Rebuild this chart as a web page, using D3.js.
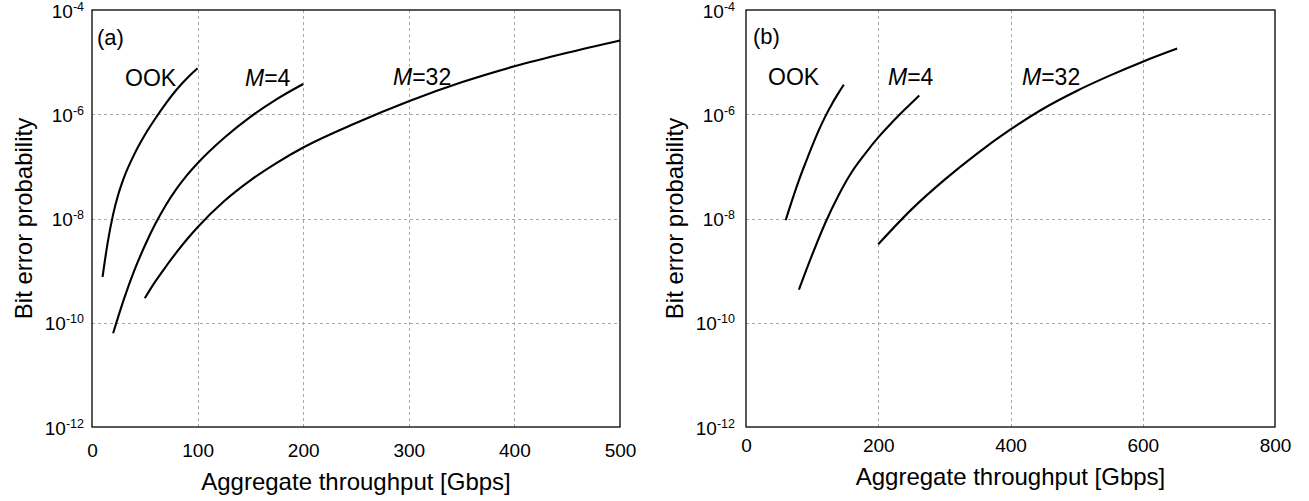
<!DOCTYPE html>
<meta charset="utf-8">
<style>
  body { margin: 0; background: #fff; }
  svg text { font-family: "Liberation Sans", Arial, sans-serif; fill: #000; }
  .grid line { stroke: #a8a8a8; stroke-dasharray: 3,3; shape-rendering: crispEdges; }
  .grid path, .axis path, .axis line { display: none; }
  .frame { fill: none; stroke: #000; stroke-width: 1.3; }
  .curve { fill: none; stroke: #000; stroke-width: 2.1; }
</style>
<body>
<script src="https://cdn.jsdelivr.net/npm/d3@7"></script>
<script>

  // ---- data ----
  var yTickExps = [-4, -6, -8, -10, -12];
  var xTicksA = [0, 100, 200, 300, 400, 500];
  var xTicksB = [0, 200, 400, 600, 800];

  // panel (a)
  var ookA_x   = [10, 15, 20, 25, 30, 40, 50, 60, 70, 80, 90, 100];
  var ookA_ber = [7.6e-10, 3.6e-9, 1.2e-8, 2.95e-8, 5.9e-8, 1.7e-7, 4.0e-7, 8.3e-7, 1.62e-6, 2.95e-6, 4.9e-6, 7.6e-6];
  var m4A_x    = [20, 30, 40, 50, 60, 70, 80, 90, 100, 125, 150, 175, 200];
  var m4A_ber  = [6.3e-11, 2.75e-10, 1.0e-9, 3.0e-9, 7.9e-9, 1.82e-8, 3.7e-8, 6.8e-8, 1.15e-7, 3.5e-7, 8.9e-7, 1.95e-6, 3.8e-6];
  var m32A_x   = [50, 60, 70, 80, 90, 100, 125, 150, 175, 200, 250, 300, 350, 400, 450, 500];
  var m32A_ber = [2.95e-10, 6.2e-10, 1.2e-9, 2.24e-9, 4.0e-9, 6.8e-9, 2.14e-8, 5.4e-8, 1.17e-7, 2.3e-7, 6.8e-7, 1.78e-6, 4.1e-6, 8.3e-6, 1.51e-5, 2.6e-5];

  // panel (b)
  var ookB_x   = [60, 70, 80, 90, 100, 110, 120, 130, 140, 148];
  var ookB_ber = [9.3e-9, 2.3e-8, 5.4e-8, 1.17e-7, 2.45e-7, 4.9e-7, 9.1e-7, 1.58e-6, 2.57e-6, 3.7e-6];
  var m4B_x    = [80, 100, 120, 140, 160, 180, 200, 220, 240, 262];
  var m4B_ber  = [4.3e-10, 2.0e-9, 8.3e-9, 2.8e-8, 7.8e-8, 1.74e-7, 3.6e-7, 6.8e-7, 1.23e-6, 2.3e-6];
  var m32B_x   = [200, 250, 300, 350, 400, 450, 500, 550, 600, 652];
  var m32B_ber = [3.2e-9, 1.48e-8, 5.5e-8, 1.78e-7, 5.1e-7, 1.29e-6, 2.8e-6, 5.5e-6, 1.02e-5, 1.82e-5];

  var xTitle = "Aggregate throughput [Gbps]";
  var yTitle = "Bit error probability";

  var zip = function(xs, ys) { return xs.map(function(v, i) { return [v, ys[i]]; }); };

  var panels = [
    { tag: "(a)", left: 92, right: 620, xMax: 500, xTicks: xTicksA,
      yPad: 8, xTickY: 30, xTitleY: 63, yTitleX: 60,
      tagPos: [5, 35],
      series: [zip(ookA_x, ookA_ber), zip(m4A_x, m4A_ber), zip(m32A_x, m32A_ber)],
      labels: [{ t: "OOK", x: 33, y: 76 }, { m: "4", x: 153, y: 76 }, { m: "32", x: 301, y: 75 }] },
    { tag: "(b)", left: 746, right: 1275, xMax: 800, xTicks: xTicksB,
      yPad: 11, xTickY: 25, xTitleY: 58, yTitleX: 63,
      tagPos: [7, 34],
      series: [zip(ookB_x, ookB_ber), zip(m4B_x, m4B_ber), zip(m32B_x, m32B_ber)],
      labels: [{ t: "OOK", x: 22, y: 75 }, { m: "4", x: 142, y: 75 }, { m: "32", x: 276, y: 75 }] }
  ];

  var plotTop = 10, plotBottom = 427, plotH = plotBottom - plotTop;

  var svg = d3.select("body").append("svg")
      .attr("width", 1309)
      .attr("height", 501);

  panels.forEach(function(p) {
    var width = p.right - p.left;

    var x = d3.scaleLinear().domain([0, p.xMax]).range([0, width]);
    var y = d3.scaleLog().domain([1e-12, 1e-4]).range([plotH, 0]);

    var g = svg.append("g").attr("transform", "translate(" + p.left + "," + plotTop + ")");

    // grid
    g.append("g").attr("class", "grid")
        .call(d3.axisLeft(y).tickValues([1e-6, 1e-8, 1e-10]).tickSize(-width).tickFormat(""));
    g.append("g").attr("class", "grid")
        .attr("transform", "translate(0," + plotH + ")")
        .call(d3.axisBottom(x).tickValues(p.xTicks.slice(1, -1)).tickSize(-plotH).tickFormat(""));

    // y tick labels 10^n
    var ya = g.append("g").attr("class", "axis")
        .call(d3.axisLeft(y).tickValues(yTickExps.map(function(e) { return Math.pow(10, e); }))
            .tickSize(0).tickPadding(p.yPad).tickFormat(""));
    ya.attr("font-size", null).attr("font-family", null);
    ya.selectAll(".tick text").each(function(d) {
      var t = d3.select(this).attr("dy", null).attr("y", 7).style("font-size", "19px");
      t.append("tspan").text("10");
      t.append("tspan").attr("dy", -7).style("font-size", "12.5px")
          .text("-" + Math.abs(Math.round(Math.log10(d))));
    });

    // x tick labels
    var xa = g.append("g").attr("class", "axis")
        .attr("transform", "translate(0," + plotH + ")")
        .call(d3.axisBottom(x).tickValues(p.xTicks).tickSize(0).tickFormat(d3.format("d")));
    xa.attr("font-size", null).attr("font-family", null);
    xa.selectAll(".tick text").attr("dy", null).attr("y", p.xTickY).style("font-size", "19px");

    // frame
    g.append("rect").attr("class", "frame").attr("width", width).attr("height", plotH);

    // curves
    var line = d3.line()
        .x(function(d) { return x(d[0]); })
        .y(function(d) { return y(d[1]); })
        .curve(d3.curveMonotoneX);
    g.selectAll("path.curve").data(p.series).enter()
        .append("path").attr("class", "curve").attr("d", line);

    // titles
    g.append("text").attr("x", width / 2).attr("y", plotH + p.xTitleY)
        .attr("text-anchor", "middle").style("font-size", "24px").text(xTitle);
    g.append("text")
        .attr("transform", "translate(" + (-p.yTitleX) + "," + (plotH / 2) + ") rotate(-90)")
        .attr("text-anchor", "middle").style("font-size", "24px").text(yTitle);

    // panel tag and curve labels
    g.append("text").attr("x", p.tagPos[0]).attr("y", p.tagPos[1])
        .style("font-size", "22px").text(p.tag);
    p.labels.forEach(function(l) {
      var t = g.append("text").attr("x", l.x).attr("y", l.y).style("font-size", "23px");
      if (l.t) { t.text(l.t); return; }
      t.append("tspan").style("font-style", "italic").text("M");
      t.append("tspan").text("=" + l.m);
    });
  });

</script>
